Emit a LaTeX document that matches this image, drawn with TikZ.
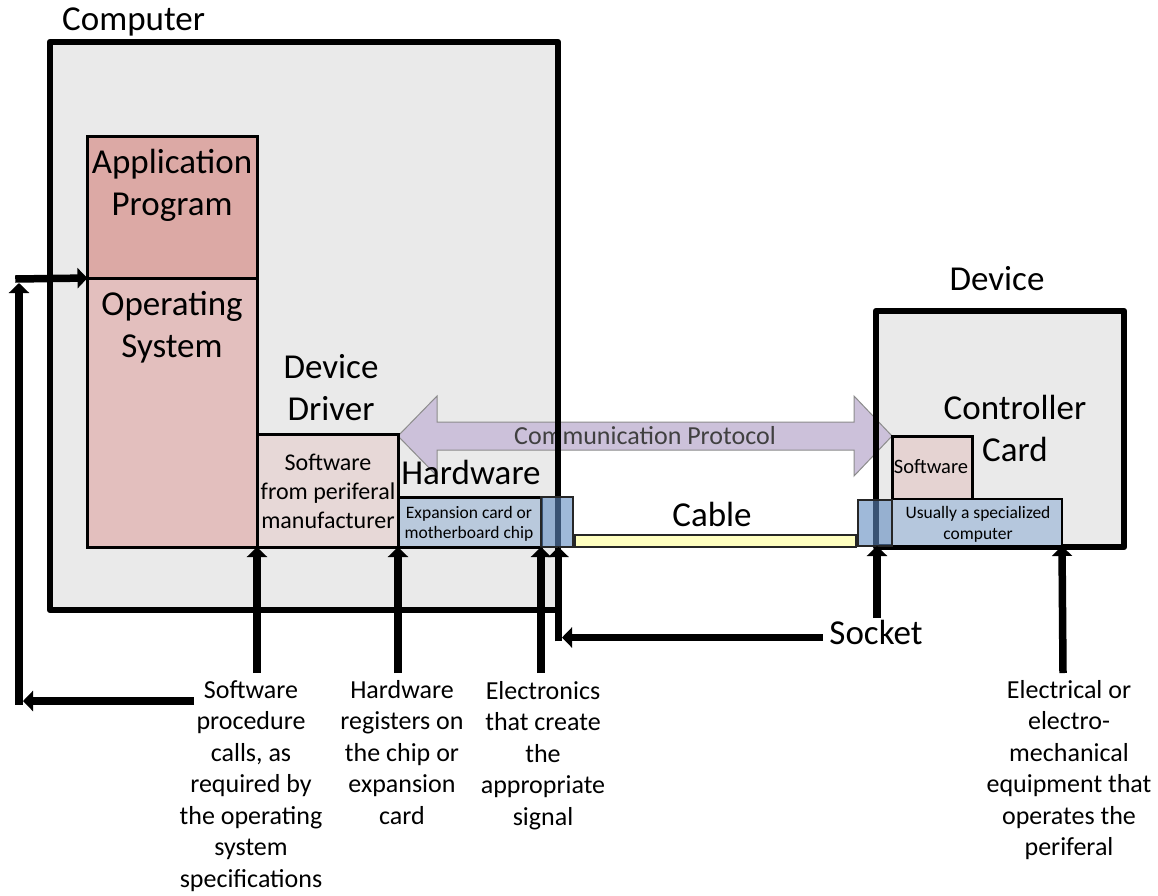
\documentclass[tikz,border=0pt]{standalone}
\usepackage{fontspec}
\setmainfont{Carlito}
\usetikzlibrary{arrows.meta}
\definecolor{framefill}{HTML}{EAEAEA}
\definecolor{appfill}{HTML}{DCA9A5}
\definecolor{osfill}{HTML}{E3BFBE}
\definecolor{drvfill}{HTML}{E7D8D7}
\definecolor{expfill}{HTML}{B9C9DC}
\definecolor{usufill}{HTML}{B5C7DD}
\definecolor{dswfill}{HTML}{E5D3D2}
\definecolor{sockfill}{HTML}{5F8AC0}
\definecolor{cablefill}{HTML}{FFFFC0}
\definecolor{protofill}{HTML}{CCC1DA}
\definecolor{protoline}{HTML}{8C8C8C}
\definecolor{prototext}{HTML}{404040}
\newcommand\mlines[1]{\begin{tabular}[t]{@{}c@{}}#1\end{tabular}}
\begin{document}
\begin{tikzpicture}[x=1pt,y=-1pt,
  boxnode/.style={rectangle, inner sep=0pt, outer sep=0pt, anchor=north west},
  inbox/.style={boxnode, draw, line width=3pt},
  frame/.style={line width=6.5pt, line join=round},
  sockbox/.style={boxnode, draw=black!85, line width=2pt, fill=sockfill, fill opacity=0.6, draw opacity=1},
  arr/.style={line width=7.5pt, -{Triangle[width=20pt,length=10pt]}},
  bigtxt/.style={inner sep=0pt, anchor=base, font=\fontsize{35}{42}\selectfont},
  lbltxt/.style={inner sep=0pt, anchor=base, font=\fontsize{26}{31.5}\selectfont},
  smalltxt/.style={inner sep=0pt, anchor=base, font=\fontsize{17.5}{20.5}\selectfont}
]
\useasboundingbox (0,0) rectangle (1158,895);
% outer frames (fill)
\node[boxnode, fill=framefill, minimum width=508pt, minimum height=568pt] (comp) at (50,42) {};
\node[boxnode, fill=framefill, minimum width=248pt, minimum height=236pt] (dev) at (876,311) {};
% communication protocol double arrow
\path[fill=protofill, draw=protoline, line width=1pt] (398,436) -- (437,396) -- (437,422) -- (854,422) -- (854,396) -- (892,436) -- (854,476) -- (854,450) -- (437,450) -- (437,476) -- cycle;
\node[lbltxt, text=prototext] (proto) at (645,444) {Communication Protocol};
% frame borders
\draw[frame] (comp.north west) rectangle (comp.south east);
\draw[frame] (dev.north west) rectangle (dev.south east);
% inner boxes
\node[inbox, fill=appfill, minimum width=169.5pt, minimum height=142pt] (app) at (87.5,136) {};
\node[inbox, fill=osfill, minimum width=169.5pt, minimum height=269pt] (os) at (87.5,278) {};
\node[inbox, fill=drvfill, minimum width=141pt, minimum height=113pt] (drv) at (257,434) {};
\node[inbox, fill=expfill, minimum width=143pt, minimum height=50pt] (exp) at (398,497) {};
\node[boxnode, draw=black!85, line width=2pt, fill=cablefill, minimum width=281pt, minimum height=12pt] (cable) at (575,535) {};
\node[inbox, fill=dswfill, minimum width=80pt, minimum height=63pt] (dsw) at (892,436) {};
\node[inbox, line width=2.5pt, fill=usufill, minimum width=170pt, minimum height=47pt] (usu) at (892,499) {};
% sockets
\node[sockbox, minimum width=32pt, minimum height=50pt] (sockL) at (541,497) {};
\node[sockbox, minimum width=34pt, minimum height=46pt] (sockR) at (858,500) {};
% titles
\node[bigtxt, anchor=base west] (tcomp) at (62,30) {Computer};
\node[bigtxt] (tdev) at (997,290) {Device};
\node[bigtxt] (tapp) at (172,173) {\mlines{Application\\Program}};
\node[bigtxt] (tos) at (172,315) {\mlines{Operating\\System}};
\node[bigtxt] (tdrv) at (331,378) {\mlines{Device\\Driver}};
\node[bigtxt] (thw) at (471,484) {Hardware};
\node[bigtxt] (tcab) at (712,526) {Cable};
\node[bigtxt] (tctl) at (1015,419) {\mlines{Controller\\Card}};
\node[bigtxt] (tsock) at (876,644) {Socket};
\node[inner sep=0pt, anchor=base, font=\fontsize{24}{29}\selectfont] (tdrvsw) at (328,470) {\mlines{Software\\from periferal\\manufacturer}};
\node[smalltxt] (texp) at (469,518) {\mlines{Expansion card or\\motherboard chip}};
\node[inner sep=0pt, anchor=base, font=\fontsize{20.5}{24}\selectfont] (tdsw) at (931,473) {Software};
\node[inner sep=0pt, anchor=base, font=\fontsize{17.5}{21}\selectfont] (tusu) at (978,518) {\mlines{Usually a specialized\\computer}};
% bottom labels
\node[lbltxt] (lsw) at (251,698) {\mlines{Software\\procedure\\calls, as\\required by\\the operating\\system\\specifications}};
\node[lbltxt] (lhw) at (402,698) {\mlines{Hardware\\registers on\\the chip or\\expansion\\card}};
\node[lbltxt] (lel) at (543,699) {\mlines{Electronics\\that create\\the\\appropriate\\signal}};
\node[lbltxt] (leq) at (1069,698) {\mlines{Electrical or\\electro-\\mechanical\\equipment that\\operates the\\periferal}};
% connector coordinates
\coordinate (lp1) at (194,701);
\coordinate (lp2) at (23,701);
\coordinate (lp3) at (19,704.75);
\coordinate (lp4) at (19,283);
\coordinate (lp5) at (15.25,279);
\coordinate (swA) at (257,673);
\coordinate (hwA) at (398,673);
\coordinate (elA) at (541,673);
\coordinate (skC) at (558.5,641.25);
\coordinate (skH) at (562,637.5);
\coordinate (skS) at (823,637.5);
\coordinate (skR) at (877,618);
\coordinate (eqA) at (1063,673);
% arrows
\draw[arr] (lp1) -- (lp2);
\draw[arr] (lp3) -- (lp4);
\draw[arr] (lp5) -- (os.north west);
\draw[arr] (swA) -- (os.south east);
\draw[arr] (hwA) -- (drv.south east);
\draw[arr] (elA) -- (exp.south east);
\draw[arr] (skC) -- (skC |- sockL.south);
\draw[arr] (skS) -- (skH);
\draw[arr] (skR) -- (skR |- sockR.south);
\draw[arr] (eqA) -- (usu.south east);
\end{tikzpicture}
\end{document}
